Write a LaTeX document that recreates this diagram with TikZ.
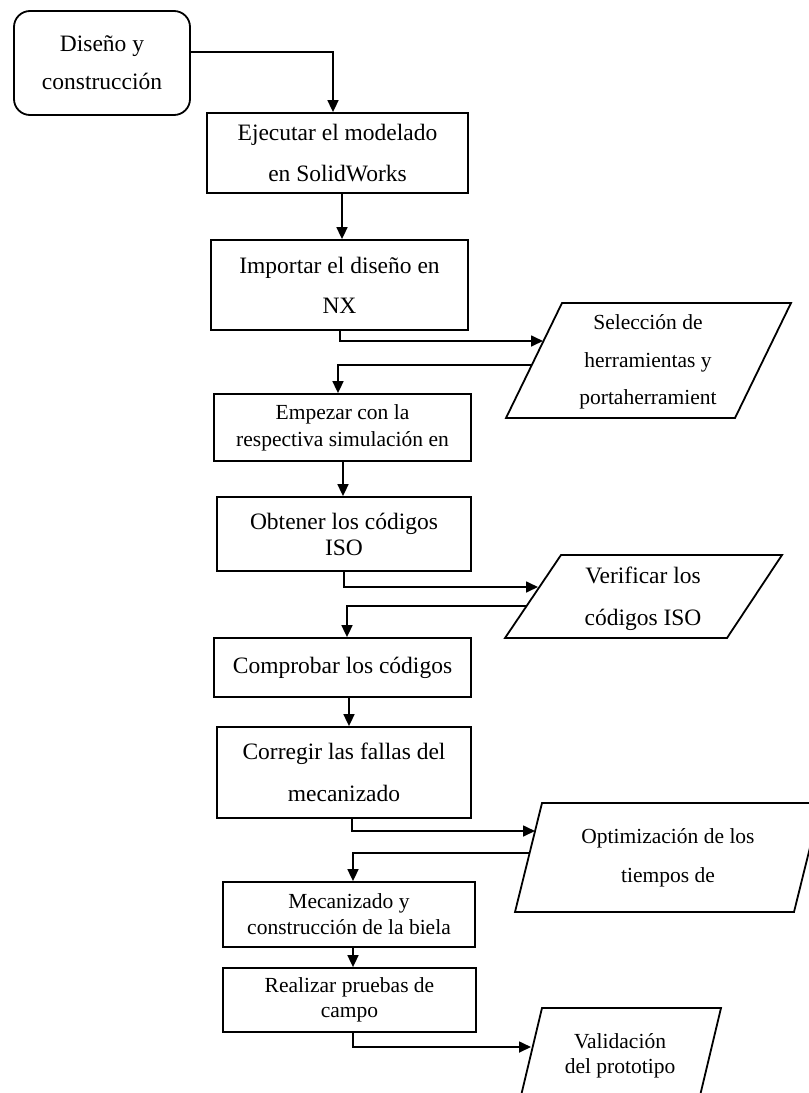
\documentclass[tikz,border=0pt]{standalone}
\usepackage{fontspec}
\setmainfont{Liberation Serif}
\usetikzlibrary{arrows.meta}
\begin{document}
\begin{tikzpicture}[x=1pt,y=-1pt,
  box/.style={draw, line width=1.8pt, align=center, inner sep=0pt},
  big/.style={font=\fontsize{23.5}{#1}\selectfont},
  small/.style={font=\fontsize{21.5}{#1}\selectfont},
  conn/.style={line width=1.7pt, -{Triangle[length=12pt,width=11pt]}},
  para/.style={draw, line width=1.8pt, line join=miter},
  lbl/.style={align=center, inner sep=0pt}]
\useasboundingbox (0,0) rectangle (809,1093);
\clip (0,0) rectangle (809,1093);

% process boxes
\node[box, rounded corners=16pt, minimum width=176pt, minimum height=104pt, big=38] (R) at (102,63) {Diseño y\\construcción};
\node[box, minimum width=261pt, minimum height=80pt, big=41] (B2) at (337.5,153) {Ejecutar el modelado\\en SolidWorks};
\node[box, minimum width=257pt, minimum height=90pt, big=40] (B3) at (339.5,285) {Importar el diseño en\\NX};
\node[box, minimum width=257pt, minimum height=67pt, small=27] (B4) at (342.5,427.5) {Empezar con la\\respectiva simulación en};
\node[box, minimum width=254pt, minimum height=74pt, big=26] (B5) at (344,534) {Obtener los códigos\\ISO};
\node[box, minimum width=257pt, minimum height=59pt, big=26] (B6) at (342.5,667.5) {\raisebox{5pt}{Comprobar los códigos}};
\node[box, minimum width=254pt, minimum height=91pt, big=42] (B7) at (344,772.5) {Corregir las fallas del\\mecanizado};
\node[box, minimum width=252pt, minimum height=65pt, small=26] (B8) at (349,914.5) {Mecanizado y\\construcción de la biela};
\node[box, minimum width=253pt, minimum height=64pt, small=25] (B9) at (349.5,1000) {Realizar pruebas de\\campo};

% data (parallelogram) shapes
\draw[para] (562,303) -- (791,303) -- (735,418) -- (506,418) -- cycle;
\node[lbl, small=37.5] (P1) at (648,362) {Selección de\\herramientas y\\portaherramient};
\coordinate (P1in) at (543,341);
\coordinate (P1out) at (532,365);

\draw[para] (561,555) -- (782,555) -- (727,638) -- (505,638) -- cycle;
\node[lbl, big=42] (P2) at (643,599) {Verificar los\\códigos ISO};
\coordinate (P2in) at (538,587);
\coordinate (P2out) at (527,606);

\draw[para] (542,803) -- (821,803) -- (794,912) -- (515,912) -- cycle;
\node[lbl, small=39] (P3) at (668,857.5) {Optimización de los\\tiempos de};
\coordinate (P3in) at (535,831);
\coordinate (P3out) at (530,853);

\draw[para] (542,1008) -- (721,1008) -- (699,1100) -- (520,1100) -- cycle;
\node[lbl, small=25] (P4) at (620,1055.5) {Validación\\del prototipo};
\coordinate (P4in) at (531,1047);

% connectors
\draw[conn] ([yshift=11pt]R.east) -| ([xshift=-4.5pt]B2.north);
\draw[conn] ([xshift=4.5pt]B2.south) -- ([xshift=4.5pt]B2.south |- B3.north);
\draw[conn] ([xshift=0.5pt]B3.south) |- (P1in);
\draw[conn] (P1out) -| ([xshift=-4.5pt]B4.north);
\draw[conn] ([xshift=0.5pt]B4.south) -- ([xshift=0.5pt]B4.south |- B5.north);
\draw[conn] (B5.south) |- (P2in);
\draw[conn] (P2out) -| ([xshift=4.5pt]B6.north);
\draw[conn] ([xshift=6.5pt]B6.south) -- ([xshift=6.5pt]B6.south |- B7.north);
\draw[conn] ([xshift=8pt]B7.south) |- (P3in);
\draw[conn] (P3out) -| ([xshift=4pt]B8.north);
\draw[conn] ([xshift=4pt]B8.south) -- ([xshift=4pt]B8.south |- B9.north);
\draw[conn] ([xshift=3.5pt]B9.south) |- (P4in);
\end{tikzpicture}
\end{document}
